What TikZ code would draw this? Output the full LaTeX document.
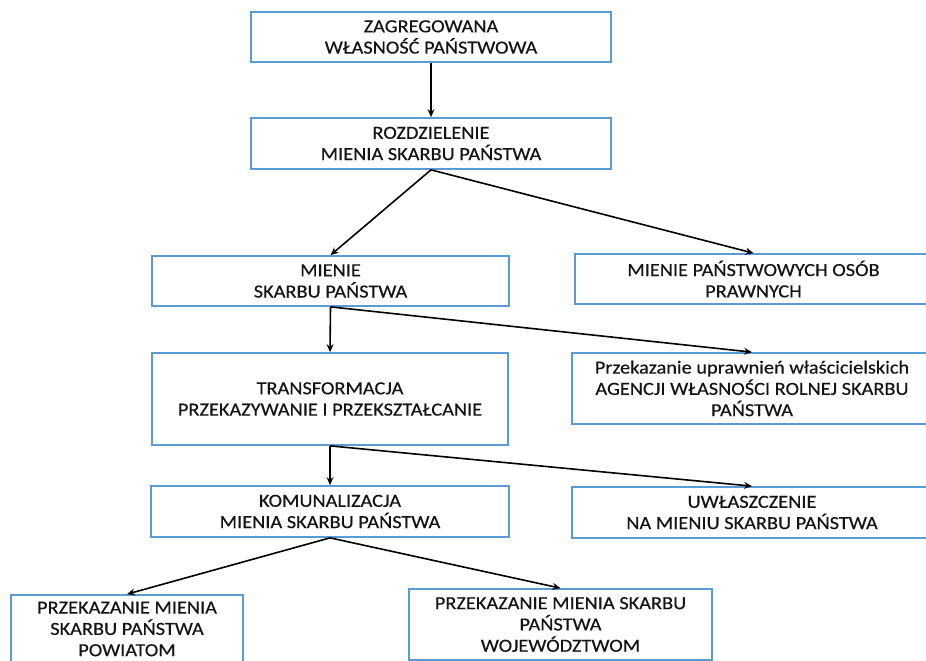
\documentclass[tikz,border=0pt]{standalone}
\usepackage{fontspec}
\setmainfont{Carlito}[FakeStretch=1.1,FakeBold=0.35]
\usetikzlibrary{arrows.meta}
\definecolor{boxblue}{RGB}{91,155,213}
\definecolor{txt}{RGB}{20,20,20}
\begin{document}
\begin{tikzpicture}[x=1pt,y=-1pt,
  box/.style={draw=boxblue, line width=1.7pt, fill=white, align=center, text=txt,
    font=\fontsize{18.5}{21.3}\selectfont, inner sep=0pt},
  arr/.style={draw=black, line width=1.6pt, -{Stealth[length=8pt,width=7pt]}}]
\useasboundingbox (0,0) rectangle (926,661);
\clip (0,0) rectangle (926,661);
\node[box, minimum width=360pt, minimum height=50pt] (n1) at (431,37) {ZAGREGOWANA\\WŁASNOŚĆ PAŃSTWOWA};
\node[box, minimum width=360pt, minimum height=51pt] (n2) at (431,143.5) {ROZDZIELENIE\\MIENIA SKARBU PAŃSTWA};
\node[box, minimum width=357pt, minimum height=50pt] (n3) at (330.5,281) {MIENIE\\SKARBU PAŃSTWA};
\node[box, minimum width=357pt, minimum height=50pt] (n4) at (753.5,279) {MIENIE PAŃSTWOWYCH OSÓB\\PRAWNYCH};
\node[box, minimum width=356pt, minimum height=92pt] (n5) at (330,399) {TRANSFORMACJA\\PRZEKAZYWANIE I PRZEKSZTAŁCANIE};
\node[box, minimum width=360pt, minimum height=71pt] (n6) at (752,388.5) {Przekazanie uprawnień właścicielskich\\AGENCJI WŁASNOŚCI ROLNEJ SKARBU\\PAŃSTWA};
\node[box, minimum width=358pt, minimum height=51pt] (n7) at (330,511.5) {KOMUNALIZACJA\\MIENIA SKARBU PAŃSTWA};
\node[box, minimum width=360pt, minimum height=51pt] (n8) at (752,512.5) {UWŁASZCZENIE\\NA MIENIU SKARBU PAŃSTWA};
\node[box, minimum width=232pt, minimum height=68pt] (n9) at (127,629) {PRZEKAZANIE MIENIA\\SKARBU PAŃSTWA\\POWIATOM};
\node[box, minimum width=303pt, minimum height=71pt] (n10) at (560.5,624.5) {PRZEKAZANIE MIENIA SKARBU\\PAŃSTWA\\WOJEWÓDZTWOM};
\draw[arr] (n1.south) -- (n2.north);
\draw[arr] (n2.south) -- (n3.north);
\draw[arr] (n2.south) -- (n4.north);
\draw[arr] (n3.south) -- (n5.north);
\draw[arr] (n3.south) -- (n6.north);
\draw[arr] (n5.south) -- (n7.north);
\draw[arr] (n5.south) -- (n8.north);
\draw[arr] (n7.south) -- (n9.north);
\draw[arr] (n7.south) -- (n10.north);
\end{tikzpicture}
\end{document}
